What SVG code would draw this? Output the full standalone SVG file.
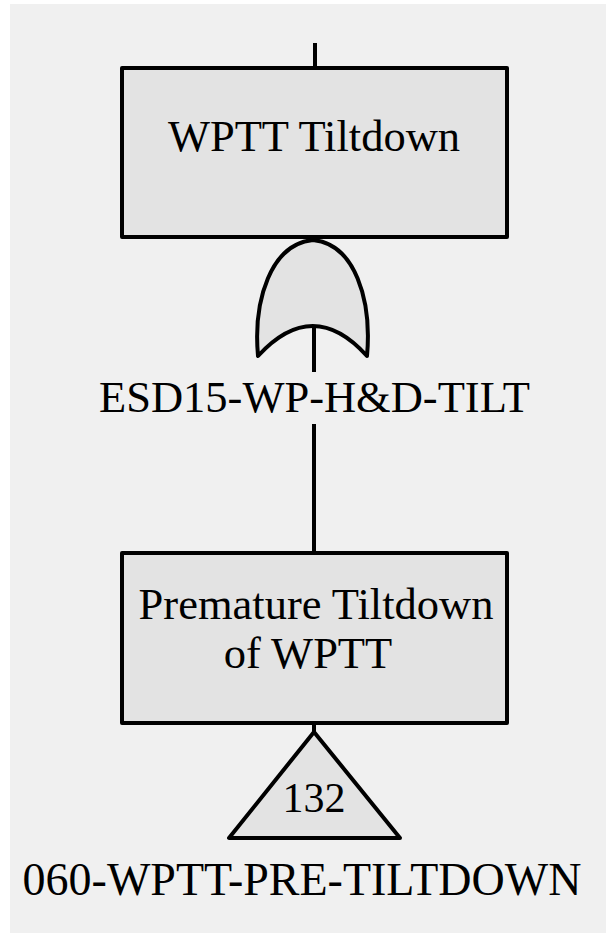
<svg xmlns="http://www.w3.org/2000/svg" width="606" height="935" viewBox="0 0 606 935">
<defs>
<style>
.shape{fill:#e3e3e3;stroke:#000;stroke-width:4;stroke-linejoin:round}
.ln{stroke:#000;stroke-width:4;fill:none}
.t{font-family:"Liberation Serif","Times New Roman",serif;font-size:44.5px;fill:#000;text-anchor:middle}
</style>
</defs>
<rect x="0" y="0" width="606" height="935" fill="#ffffff"/>
<rect x="10" y="4" width="596" height="929" fill="#f0f0f0"/>
<g id="connectors">
<line class="ln" x1="315" y1="43" x2="315" y2="68"/>
<line class="ln" x1="314" y1="237" x2="314" y2="242"/>
<line class="ln" x1="314" y1="326" x2="314" y2="372"/>
<line class="ln" x1="314" y1="424" x2="314" y2="553"/>
<line class="ln" x1="314" y1="723" x2="314" y2="732"/>
</g>
<g id="top-event">
<rect class="shape" x="122" y="68" width="385" height="169"/>
<text class="t" x="314" y="151">WPTT Tiltdown</text>
</g>
<g id="or-gate">
<path class="shape" d="M258,356 C253,300 271,244 313,240 C355,244 372,300 367,356 Q313,296 258,356 Z"/>
<line class="ln" x1="314" y1="326" x2="314" y2="372"/>
<text class="t" x="314.5" y="412">ESD15-WP-H&amp;D-TILT</text>
</g>
<g id="premature-tiltdown">
<rect class="shape" x="122" y="553" width="385" height="170"/>
<text class="t" x="316" y="619">Premature Tiltdown</text>
<text class="t" x="308" y="668">of WPTT</text>
</g>
<g id="transfer-132">
<polygon class="shape" points="314,732 229,838 400,838"/>
<text class="t" x="314" y="812" style="font-size:42px">132</text>
<text class="t" x="302" y="895" style="font-size:46px">060-WPTT-PRE-TILTDOWN</text>
</g>
</svg>
